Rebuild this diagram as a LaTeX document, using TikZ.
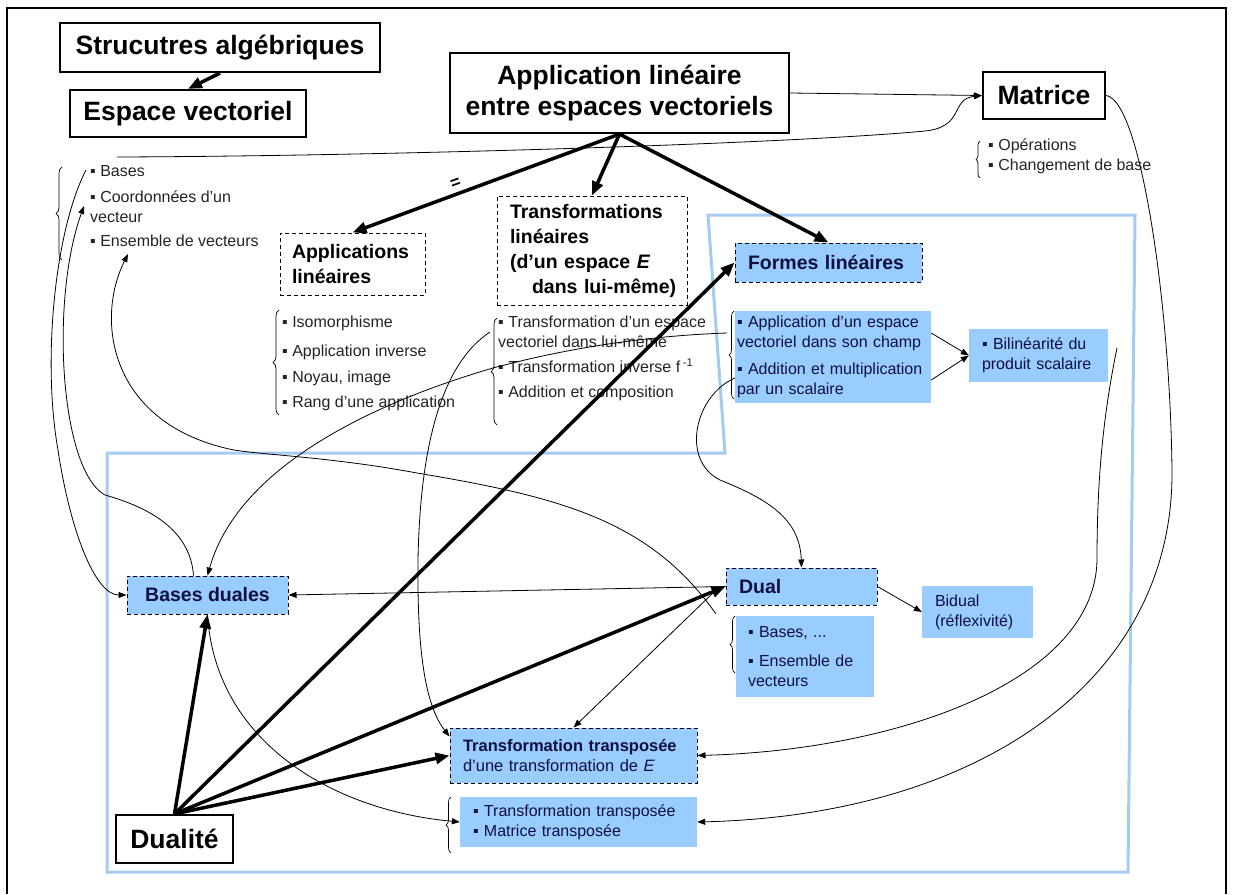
\documentclass[tikz,border=0pt]{standalone}
\usepackage{fontspec}
\setmainfont{Liberation Sans}
\usetikzlibrary{arrows.meta,decorations.pathreplacing}
\definecolor{boxblue}{RGB}{153,204,255}
\definecolor{framblue}{RGB}{165,203,240}
\definecolor{navy}{RGB}{16,16,64}
\definecolor{txtgray}{RGB}{35,35,35}
\begin{document}
\begin{tikzpicture}[x=1pt,y=-1pt,
  big/.style={draw, line width=2.2pt, font=\fontsize{26.5}{31}\selectfont\bfseries, inner sep=0pt, align=center},
  dbox/.style={draw, dash pattern=on 4pt off 3pt, line width=1pt, inner sep=0pt},
  bbox/.style={fill=boxblue, inner sep=0pt, text=navy},
  midf/.style={font=\fontsize{19.5}{25}\selectfont\bfseries},
  smallf/.style={font=\fontsize{16}{20}\selectfont},
  lst/.style={smallf, inner sep=0pt, anchor=north west, align=left, text=txtgray},
  con/.style={line width=0.8pt, -{Triangle[length=8pt,width=6pt]}},
  fat/.style={line width=3.5pt, -{Triangle[length=14pt,width=11pt]}},
  br/.style={decorate, decoration={brace, amplitude=6pt}, line width=0.7pt},
]
\useasboundingbox (0,0) rectangle (1233,894);
\draw[line width=1.5pt] (7,894) -- (7,8) -- (1226,8) -- (1226,894);
\draw[framblue, line width=3pt] (708,215) -- (1135,215) -- (1128,872) -- (107,872) -- (107,453) -- (725,453) -- cycle;

% main boxes
\node[big, minimum width=320pt, minimum height=49pt] (struct) at (220,47.5) {Strucutres algébriques};
\node[big, minimum width=236pt, minimum height=47pt] (espace) at (188,113.5) {Espace vectoriel};
\node[big, minimum width=339pt, minimum height=80pt] (applin) at (619.5,93) {Application linéaire\\entre espaces vectoriels};
\node[big, minimum width=122pt, minimum height=47pt] (matrice) at (1044,95.5) {Matrice};
\node[big, minimum width=117pt, minimum height=48pt] (dualite) at (174.5,839) {Dualité};

\node[dbox, midf, minimum width=145pt, minimum height=62pt, text width=121pt, align=left] (applis) at (352.5,264) {Applications\\linéaires};
\node[dbox, midf, minimum width=190pt, minimum height=109pt, text width=164pt, align=left] (transf) at (592,250.5) {\mbox{Transformations}\\\mbox{linéaires}\\\mbox{(d’un espace \textit{E}}\\\mbox{\hspace*{22pt}dans lui-même)}};
\node[dbox, bbox, midf, minimum width=187pt, minimum height=39pt, text width=161pt, align=left] (formes) at (828.5,262.5) {Formes linéaires};
\node[bbox, smallf, minimum width=196pt, minimum height=92pt, text width=192pt, align=left] (formeslist) at (833,357) {\mbox{▪ Application d'un espace}\\\mbox{vectoriel dans son champ}\\[7pt]\mbox{▪ Addition et multiplication}\\\mbox{par un scalaire}};
\node[bbox, smallf, minimum width=139pt, minimum height=53pt, text width=113pt, align=left] (bilin) at (1038.5,355.5) {\mbox{▪ Bilinéarité du}\\\mbox{produit scalaire}};
\node[dbox, bbox, midf, minimum width=161pt, minimum height=38pt] (basesd) at (207.5,595) {Bases duales};
\node[dbox, bbox, midf, minimum width=151pt, minimum height=37pt, text width=125pt, align=left] (dual) at (801.5,586.5) {Dual};
\node[bbox, smallf, minimum width=138pt, minimum height=81pt, text width=114pt, align=left] (duallist) at (805,656.5) {\mbox{▪ Bases, ...}\\[9pt]\mbox{▪ Ensemble de}\\vecteurs};
\node[bbox, smallf, minimum width=111pt, minimum height=52pt, text width=85pt, align=left] (bidual) at (977.5,612) {Bidual\\(réflexivité)};
\node[dbox, bbox, font=\fontsize{16.5}{20}\selectfont, minimum width=247pt, minimum height=55pt, text width=221pt, align=left] (ttrans) at (573.5,755.5) {\mbox{\textbf{Transformation transposée}}\\\mbox{d'une transformation de \textit{E}}};
\node[bbox, smallf, minimum width=237pt, minimum height=50pt, text width=211pt, align=left] (ttlist) at (578.5,822) {▪ Transformation transposée\\▪ Matrice transposée};

% plain lists
\node[lst] (baseslist) at (90,165) {▪ Bases\\[6pt]▪ Coordonnées d'un\\vecteur\\[4pt]▪ Ensemble de vecteurs};
\node[lst] (applislist) at (282,316) {▪ Isomorphisme\\[9pt]▪ Application inverse\\[6pt]▪ Noyau, image\\[5pt]▪ Rang d'une application};
\node[lst] (transflist) at (498,316) {▪ Transformation d'un espace\\vectoriel dans lui-même\\[5pt]▪ Transformation inverse f\,\textsuperscript{-1}\\[5pt]▪ Addition et composition};
\node[lst] (matlist) at (988,139) {▪ Opérations\\▪ Changement de base};

% braces
\draw[br] (62,260) -- (62,167);
\draw[br] (279,415) -- (279,310);
\draw[br] (497,425) -- (497,318);
\draw[br, decoration={amplitude=5pt}] (734,399) -- (734,311);
\draw[br, decoration={amplitude=5pt}] (735,673) -- (735,616);
\draw[br, decoration={amplitude=5pt}] (451,853) -- (451,797);
\draw[br, decoration={amplitude=4pt}] (980,178) -- (980,141);

% free ends
\coordinate (bs) at (86,170);
\coordinate (bmat) at (117,157);
\coordinate (coord) at (84,206);
\coordinate (ens) at (128,254);
\coordinate (fbrace) at (727,333);
\coordinate (fadd) at (735,378);
\coordinate (tbrace) at (490,332);
\coordinate (dx) at (716,614);
\coordinate (dtt) at (714,592);
\coordinate (bl) at (1117,348);

% thick arrows
\draw[fat] (struct.south) -- (espace.north);
\draw[fat] (applin.south) -- node[sloped, above=1pt, pos=0.6, font=\fontsize{17}{17}\selectfont\bfseries] (eq) {=} (applis.north);
\draw[fat] (applin.south) -- (transf.north);
\draw[fat] (applin.south) -- (formes.north);
\draw[fat] (dualite.north) -- (basesd.south);
\draw[fat] (dualite.north) -- (formes.west);
\draw[fat] (dualite.north) -- (dual.west);
\draw[fat] (dualite.north) -- (ttrans.west);

% thin connectors
\draw[con] (applin.east) -- (matrice.west);
\draw[con] (bmat) .. controls (400,156) and (800,143) .. (925,131) .. controls (965,127) and (950,99) .. (matrice.west);
\draw[con] (bs) .. controls (55,230) and (42,360) .. (58,450) .. controls (70,530) and (95,595) .. (basesd.west);
\draw[con] ([xshift=-14pt]basesd.north) .. controls (190,525) and (140,505) .. (105,495) .. controls (60,470) and (50,300) .. (coord);
\draw[con] (dx) .. controls (650,520) and (560,497) .. (417,473) .. controls (320,455) and (250,455) .. (225,448) .. controls (110,420) and (95,320) .. (ens);
\draw[con] (fbrace) .. controls (640,336) and (560,350) .. (493,368) .. controls (390,398) and (240,460) .. (basesd.north);
\draw[con] (tbrace) .. controls (440,365) and (420,450) .. (418,560) .. controls (417,650) and (425,705) .. ([yshift=-9pt]ttrans.north west);
\draw[con] (dual.west) -- (basesd.east);
\draw[con] ([yshift=24pt]formeslist.east) -- (bilin.west);
\draw[con] ([yshift=-23pt]formeslist.east) -- (bilin.west);
\draw[con] (fadd) .. controls (695,395) and (680,460) .. (720,480) .. controls (770,500) and (800,520) .. (dual.north);
\draw[con] (dtt) -- (ttrans.north);
\draw[con] (dual.east) -- (bidual.west);
\draw[con] (bl) .. controls (1100,430) and (1097,500) .. (1097,560) .. controls (1095,680) and (900,750) .. (ttrans.east);
\draw[con] (matrice.east) .. controls (1140,100) and (1170,300) .. (1172,470) .. controls (1174,680) and (980,815) .. (ttlist.east);
\draw[con] (basesd.south) .. controls (215,740) and (330,810) .. (ttlist.west);
\end{tikzpicture}
\end{document}
